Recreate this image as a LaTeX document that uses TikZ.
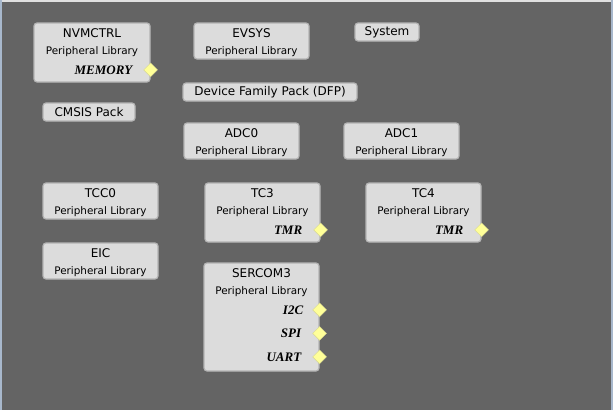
\documentclass[tikz,border=0pt]{standalone}
\usepackage{fontspec}
\setmainfont{DejaVu Sans}
\newfontfamily\portfont{Liberation Serif}
\usetikzlibrary{shapes.geometric,positioning}
\definecolor{canvas_bg}{HTML}{646464}
\definecolor{box_fill}{HTML}{DCDCDC}
\definecolor{box_edge}{HTML}{B4B4B4}
\definecolor{pin_fill}{HTML}{FFFF99}
\definecolor{pin_edge}{HTML}{D8D890}
\definecolor{frame_side}{HTML}{A8B8CC}
\begin{document}
\begin{tikzpicture}[
        x=1pt, y=-1pt,
        lib_box/.style={draw=box_edge, line width=1.2pt, fill=box_fill, rounded corners=3pt, minimum width=115pt, minimum height=36pt, inner sep=0pt},
        small_box/.style={lib_box, minimum height=18pt, font=\fontsize{12}{12}\selectfont},
        title_text/.style={inner sep=0pt, font=\fontsize{12}{12}\selectfont},
        sub_text/.style={inner sep=0pt, font=\fontsize{10.4}{10.4}\selectfont},
        port_pin/.style={diamond, draw=pin_edge, fill=pin_fill, inner sep=0pt, minimum size=14pt},
        port_text/.style={inner sep=0pt, font=\portfont\bfseries\itshape\fontsize{13}{13}\selectfont}
        ]
    \useasboundingbox (0,0) rectangle (613,410);
    \fill[canvas_bg] (0,0) rectangle (613,410);
    \fill[white!88!black] (0,0) rectangle (613,1.5);
    \fill[frame_side] (0,0) rectangle (1.5,410);
    \fill[frame_side] (610.5,0) rectangle (613,410);
    % first row
    \node[lib_box, minimum width=116pt, minimum height=59pt] (nvmctrl) at (92,52.5) {};
    \node[title_text] (nvmctrl_t) at ([yshift=-10.5pt]nvmctrl.north) {NVMCTRL};
    \node[sub_text] (nvmctrl_s) at ([yshift=-29.5pt]nvmctrl.north) {Peripheral Library};
    \node[port_pin] (nvmctrl_p) at ([yshift=-47.5pt]nvmctrl.north east) {};
    \node[port_text, left=11pt of nvmctrl_p] (nvmctrl_l) {MEMORY};
    \node[lib_box] (evsys) at (251.5,41) {};
    \node[title_text] (evsys_t) at ([yshift=-10.5pt]evsys.north) {EVSYS};
    \node[sub_text] (evsys_s) at ([yshift=-29.5pt]evsys.north) {Peripheral Library};
    \node[small_box, minimum width=64pt] (system) at (387,32) {System};
    \node[small_box, minimum width=174pt] (dfp) at (270,92) {Device Family Pack (DFP)};
    \node[small_box, minimum width=92pt] (cmsis) at (89,112) {CMSIS Pack};
    % adc
    \node[lib_box] (adc0) at (241.5,141) {};
    \node[title_text] (adc0_t) at ([yshift=-10.5pt]adc0.north) {ADC0};
    \node[sub_text] (adc0_s) at ([yshift=-29.5pt]adc0.north) {Peripheral Library};
    \node[lib_box] (adc1) at (401.5,141) {};
    \node[title_text] (adc1_t) at ([yshift=-10.5pt]adc1.north) {ADC1};
    \node[sub_text] (adc1_s) at ([yshift=-29.5pt]adc1.north) {Peripheral Library};
    % timers
    \node[lib_box] (tcc0) at (100.5,201) {};
    \node[title_text] (tcc0_t) at ([yshift=-10.5pt]tcc0.north) {TCC0};
    \node[sub_text] (tcc0_s) at ([yshift=-29.5pt]tcc0.north) {Peripheral Library};
    \node[lib_box, minimum height=59pt] (tc3) at (262.5,212.5) {};
    \node[title_text] (tc3_t) at ([yshift=-10.5pt]tc3.north) {TC3};
    \node[sub_text] (tc3_s) at ([yshift=-29.5pt]tc3.north) {Peripheral Library};
    \node[port_pin] (tc3_p) at ([yshift=-47.5pt]tc3.north east) {};
    \node[port_text, left=11pt of tc3_p] (tc3_l) {TMR};
    \node[lib_box, minimum height=59pt] (tc4) at (423.5,212.5) {};
    \node[title_text] (tc4_t) at ([yshift=-10.5pt]tc4.north) {TC4};
    \node[sub_text] (tc4_s) at ([yshift=-29.5pt]tc4.north) {Peripheral Library};
    \node[port_pin] (tc4_p) at ([yshift=-47.5pt]tc4.north east) {};
    \node[port_text, left=11pt of tc4_p] (tc4_l) {TMR};
    % eic and sercom
    \node[lib_box] (eic) at (100.5,261) {};
    \node[title_text] (eic_t) at ([yshift=-10.5pt]eic.north) {EIC};
    \node[sub_text] (eic_s) at ([yshift=-29.5pt]eic.north) {Peripheral Library};
    \node[lib_box, minimum height=108pt] (sercom3) at (261.5,317) {};
    \node[title_text] (sercom3_t) at ([yshift=-10.5pt]sercom3.north) {SERCOM3};
    \node[sub_text] (sercom3_s) at ([yshift=-29.5pt]sercom3.north) {Peripheral Library};
    \node[port_pin] (sercom3_p1) at ([yshift=-47.5pt]sercom3.north east) {};
    \node[port_text, left=9pt of sercom3_p1] (sercom3_l1) {I2C};
    \node[port_pin] (sercom3_p2) at ([yshift=-71pt]sercom3.north east) {};
    \node[port_text, left=11pt of sercom3_p2] (sercom3_l2) {SPI};
    \node[port_pin] (sercom3_p3) at ([yshift=-94.5pt]sercom3.north east) {};
    \node[port_text, left=11pt of sercom3_p3] (sercom3_l3) {UART};
\end{tikzpicture}
\end{document}
